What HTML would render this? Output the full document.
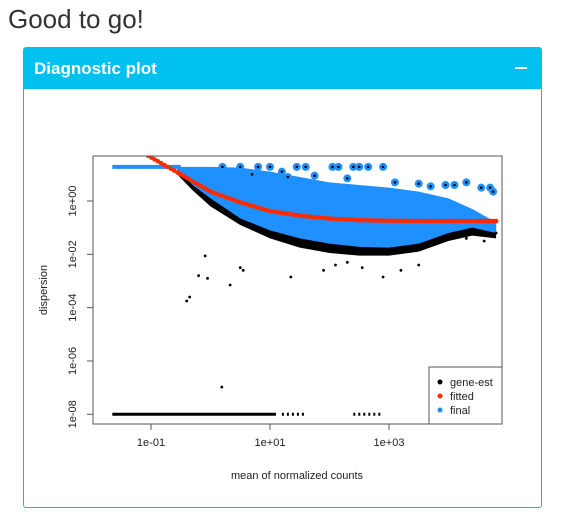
<!DOCTYPE html>
<html><head><meta charset="utf-8"><style>
body{margin:0;width:569px;height:531px;background:#fff;font-family:"Liberation Sans",sans-serif;position:relative;overflow:hidden}
#title{position:absolute;left:8px;top:4px;font-size:26px;color:#333}
#box{position:absolute;left:23px;top:47px;width:519px;height:461px;border:1px solid #00c0ef;border-radius:3px;box-sizing:border-box}
#hdr{position:absolute;left:0;top:0;right:0;height:41px;background:#00c0ef;color:#fff}
#hdr span{position:absolute;left:10px;top:11px;font-size:17px;font-weight:bold}
#min{position:absolute;right:14px;top:19px;width:12px;height:2px;background:#fff}
svg{position:absolute;left:0;top:0}
</style></head><body>
<div id="title">Good to go!</div>
<div id="box">
<div id="hdr"><span>Diagnostic plot</span><div id="min"></div></div>
</div>
<svg id="chart" width="569" height="531"></svg>
<script>
const fitLogMean=[-1.05,-0.5,0,0.5,1,1.5,2,2.5,3,3.5,4,4.5,4.8];
const fitLogDisp=[1.7,1.0,0.35,-0.05,-0.38,-0.55,-0.66,-0.72,-0.74,-0.75,-0.75,-0.75,-0.75];
const bandLogMean=[-0.56,-0.3,0,0.5,1,1.5,2,2.5,3,3.5,4,4.4,4.8];
const blueUpper=[1.28,1.28,1.28,1.25,1.1,0.9,0.7,0.6,0.5,0.35,0.1,-0.3,-0.8];
const blueLower=[1.2,0.6,0.1,-0.65,-1.1,-1.4,-1.6,-1.72,-1.75,-1.6,-1.2,-1.0,-1.2];
const blackLower=[1.0,0.4,-0.2,-0.9,-1.4,-1.75,-1.95,-2.05,-2.05,-1.9,-1.5,-1.3,-1.4];
const outMean=[-0.4,-0.35,-0.09,-0.2,-0.05,0.33,0.5,0.55,1.35,2.1,2.55,2.9,3.5,3.2,0.19,4.6,4.8,4.3,1.9,2.3];
const outDisp=[-3.75,-3.6,-2.06,-2.8,-2.9,-3.15,-2.5,-2.6,-2.85,-2.4,-2.5,-2.85,-2.4,-2.6,-6.98,-1.5,-1.2,-1.4,-2.6,-2.3];
const circMean=[0.2,0.5,0.8,1.0,1.2,1.45,1.6,1.75,2.05,2.15,2.4,2.5,2.65,2.9,3.1,3.5,3.7,3.95,4.1,4.3,4.55,4.7,4.75,0.7,1.3,2.3];
const circDisp=[1.28,1.28,1.28,1.28,1.1,1.28,1.28,0.95,1.28,1.28,1.28,1.28,1.28,1.28,0.7,0.65,0.55,0.6,0.6,0.7,0.5,0.5,0.35,1.0,0.9,0.85];
const zeroRowStart=[-1.65,1.2,2.4];
const zeroRowEnd=[1.1,1.6,2.9];
const xTicks=[-1,1,3];const xTickLabels=["1e-01","1e+01","1e+03"];
const yTicks=[0,-2,-4,-6,-8];const yTickLabels=["1e+00","1e-02","1e-04","1e-06","1e-08"];
const X=l=>151+(l+1)*59.5, Y=l=>201-l*26.66;
const svg=document.getElementById('chart'),NS='http://www.w3.org/2000/svg';
function mk(t,a,p){const e=document.createElementNS(NS,t);for(const k in a)e.setAttribute(k,a[k]);(p||svg).appendChild(e);return e;}
const cp=mk('clipPath',{id:'cp'});mk('rect',{x:93,y:156,width:409,height:268},cp);
const g=mk('g',{'clip-path':'url(#cp)'});


let e=mk('line',{x1:X(-1.65),x2:X(-0.5),y1:Y(1.28),y2:Y(1.28),stroke:'#1e90ff','stroke-width':4},g);


let pts=bandLogMean.map((m,i)=>X(m)+','+Y(blueUpper[i]-0.1)).concat(bandLogMean.map((m,i)=>X(m)+','+Y(blackLower[i])).reverse());
e=mk('polygon',{points:pts.join(' '),fill:'#000'},g);


pts=bandLogMean.map((m,i)=>X(m)+','+Y(blueUpper[i])).concat(bandLogMean.map((m,i)=>X(m)+','+Y(blueLower[i])).reverse());
e=mk('polygon',{points:pts.join(' '),fill:'#1e90ff'},g);


zeroRowStart.forEach((s,i)=>{const l=mk('line',{x1:X(s),x2:X(zeroRowEnd[i]),y1:Y(-8),y2:Y(-8),stroke:'#000','stroke-width':3,'stroke-dasharray':i?'2 3':'none'},g);

});
circMean.forEach((m,i)=>{const c=mk('circle',{cx:X(m),cy:Y(circDisp[i]),r:4,fill:'#1e90ff'},g);


const d=mk('circle',{cx:X(m),cy:Y(circDisp[i]),r:1.3,fill:'#000'},g);

});
outMean.forEach((m,i)=>{const c=mk('circle',{cx:X(m),cy:Y(outDisp[i]),r:1.4,fill:'#000'},g);

});
for(let i=0;i<fitLogMean.length-1;i++){for(let t=0;t<1;t+=0.1){const m=fitLogMean[i]+(fitLogMean[i+1]-fitLogMean[i])*t,d=fitLogDisp[i]+(fitLogDisp[i+1]-fitLogDisp[i])*t;
const c=mk('circle',{cx:X(m),cy:Y(d),r:2.3,fill:'#ff2a00'},g);

}}
e=mk('rect',{x:93,y:156,width:409,height:268,fill:'none',stroke:'#555'});


xTicks.forEach((t,i)=>{mk('line',{x1:X(t),x2:X(t),y1:424,y2:430,stroke:'#555'});
const tx=mk('text',{x:X(t),y:446,'font-size':11,'text-anchor':'middle',fill:'#222'});tx.textContent=xTickLabels[i];

});
yTicks.forEach((t,i)=>{mk('line',{x1:87,x2:93,y1:Y(t),y2:Y(t),stroke:'#555'});
const tx=mk('text',{x:0,y:0,'font-size':11,'text-anchor':'middle',fill:'#222',transform:`translate(76,${Y(t)}) rotate(-90)`});tx.textContent=yTickLabels[i];

});
e=mk('text',{x:297,y:479,'font-size':11,'text-anchor':'middle',fill:'#222'});e.textContent='mean of normalized counts';


e=mk('text',{x:0,y:0,'font-size':11,'text-anchor':'middle',fill:'#222',transform:'translate(47,290) rotate(-90)'});e.textContent='dispersion';


const lg=mk('g',{});


mk('rect',{x:429,y:367,width:73,height:57,fill:'#fff',stroke:'#555'},lg);
[['gene-est','#000'],['fitted','#ff2a00'],['final','#1e90ff']].forEach((s,i)=>{mk('circle',{cx:440,cy:382+i*14,r:2.5,fill:s[1]},lg);
const tx=mk('text',{x:450,y:386+i*14,'font-size':11,fill:'#222'},lg);tx.textContent=s[0];

});
</script>
</body></html>
